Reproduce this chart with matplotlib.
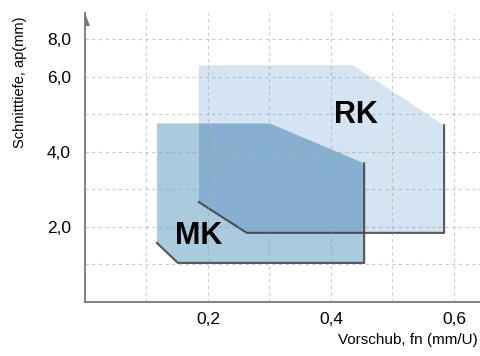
import matplotlib.pyplot as plt
from matplotlib.patches import Polygon
from matplotlib import font_manager

# === Daten ===
# Einsatzbereiche (fn in mm/U, ap in Rasterstufen der y-Achse)
mk_fn = [0.117, 0.301, 0.454, 0.454, 0.151, 0.117]
mk_ap = [4.76, 4.76, 3.70, 1.04, 1.04, 1.57]
rk_fn = [0.185, 0.436, 0.584, 0.584, 0.263, 0.185]
rk_ap = [6.30, 6.30, 4.71, 1.84, 1.84, 2.66]

x_ticks = [0.2, 0.4, 0.6]
x_labels = ["0,2", "0,4", "0,6"]
y_ticks = [2, 4, 6, 7]
y_labels = ["2,0", "4,0", "6,0", "8,0"]
x_grid = [0.1, 0.2, 0.3, 0.4, 0.5, 0.6]
y_grid = [1, 2, 3, 4, 5, 6, 7]

# === Schrift ===
names = {f.name for f in font_manager.fontManager.ttflist}
narrow = "Liberation Sans Narrow" if "Liberation Sans Narrow" in names else "Liberation Sans"
plt.rcParams["font.family"] = [narrow, "DejaVu Sans"]

fig = plt.figure(figsize=(4.81, 3.56), dpi=100)
ax = fig.add_axes([85 / 481, 54 / 356, 396 / 481, 289 / 356])
ax.set_xlim(0, 0.644)
ax.set_ylim(0, 7.69)

rk_col = "#d4e4f3"
mk_col = "#a9cbdd"
both_col = "#87b0d0"
edge_col = "#3c3c3c"

mk = Polygon(list(zip(mk_fn, mk_ap)), closed=True, facecolor=mk_col, edgecolor="none", zorder=1)
ax.add_patch(mk)
rk = Polygon(list(zip(rk_fn, rk_ap)), closed=True, facecolor=rk_col, edgecolor="none", zorder=1)
ax.add_patch(rk)
# Überlappung (multipliziert)
ov = Polygon(list(zip(rk_fn, rk_ap)), closed=True, facecolor=both_col, edgecolor="none", zorder=1.5)
ax.add_patch(ov)
ov.set_clip_path(mk)

# dunkle Kanten unten/rechts
for fn, ap in [(mk_fn, mk_ap), (rk_fn, rk_ap)]:
    ex = [fn[5], fn[4], fn[3], fn[2]]
    ey = [ap[5], ap[4], ap[3], ap[2]]
    ax.plot(ex, ey, color=edge_col, lw=1.5, alpha=0.85, zorder=2, solid_joinstyle="miter")
    # helle Oberkante
    ax.plot([fn[0], fn[1], fn[2]], [ap[0], ap[1], ap[2]], color="white", lw=0.8, alpha=0.35, zorder=2)

# === Raster ===
for gx in x_grid:
    ax.axvline(gx, color="#999999", lw=0.8, ls=(0, (3, 3)), alpha=0.5, zorder=3)
for gy in y_grid:
    ax.axhline(gy, color="#999999", lw=0.8, ls=(0, (3, 3)), alpha=0.5, zorder=3)

# === Beschriftung ===
ax.text(0.441, 4.97, "RK", fontsize=22, fontweight="bold", ha="center", va="center", zorder=4)
ax.text(0.185, 1.75, "MK", fontsize=22, fontweight="bold", ha="center", va="center", zorder=4)

ax.set_xticks(x_ticks)
ax.set_xticklabels(x_labels)
ax.set_yticks(y_ticks)
ax.set_yticklabels(y_labels)
ax.tick_params(length=0, labelsize=12.5, pad=7)
ax.tick_params(axis="y", pad=10)

for s in ["top", "right"]:
    ax.spines[s].set_visible(False)
for s in ["left", "bottom"]:
    ax.spines[s].set_color("#777777")
    ax.spines[s].set_linewidth(1.3)

# Pfeilspitze oben an der y-Achse
ax.add_patch(Polygon([(0, 1.0), (0, 0.955), (5 / 396, 0.955)], closed=True,
                     transform=ax.transAxes, facecolor="#777777", edgecolor="none",
                     clip_on=False, zorder=5))

fig.text(20 / 481, 1 - 82 / 356, "Schnitttiefe, ap(mm)", rotation=90, fontsize=10.5,
         ha="center", va="center")
fig.text(478 / 481, 1 - 340 / 356, "Vorschub, fn (mm/U)", fontsize=11,
         ha="right", va="center")

fig.savefig("out.png", dpi=100)
